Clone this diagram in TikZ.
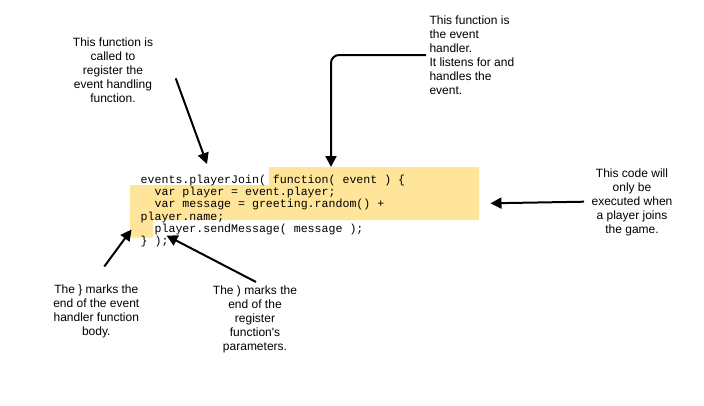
\documentclass[tikz,border=0pt]{standalone}
\usepackage{fontspec}
\setmainfont{Liberation Sans}
\setmonofont{Liberation Mono}
\newfontfamily\plainsans{Liberation Sans}
\usetikzlibrary{arrows.meta}
\definecolor{codebg}{RGB}{255,229,153}

\begin{document}
\begin{tikzpicture}[x=1pt,y=-1pt,
    note/.style={inner sep=0pt,align=center,font=\fontsize{12}{14}\selectfont},
    codeline/.style={inner sep=0pt,anchor=base west,font=\fontsize{11.6}{12.2}\ttfamily},
    pointer/.style={line width=2pt,-{Triangle[length=11pt,width=11pt]}}]
                    \useasboundingbox (0,0) rectangle (704,405);
                    % highlighted handler
                    \fill[codebg] (269,167) -- (479,167) -- (479,220) -- (153,220) -- (153,237.5)
                        -- (130,237.5) -- (130,185) -- (269,185) -- cycle;
                    \node[codeline](l1) at (140.5,183.5){events.playerJoin( function( event ) \{};
                    \node[codeline](l2) at (140.5,195.7){\ \ var player = event.player;};
                    \node[codeline](l3) at (140.5,207.9){\ \ var message = greeting.random() +};
                    \node[codeline](l4) at (140.5,220.1){player.name;};
                    \node[codeline](l5) at (140.5,232.3){\ \ player.sendMessage( message );};
                    \node[codeline](l6) at (140.5,244.5){\} );};
                    % notes
                    \node[note](register) at (113,70.5){This function is\\called to\\register the\\event handling\\function.};
                    \node[note,align=left,anchor=west](handler) at (429.3,55.5){This function is\\the event\\handler.\\It listens for and\\handles the\\event.};
                    \node[note](joins) at (632,202.5){This code will\\only be\\executed when\\a player joins\\the game.};
                    \node[note](brace) at (96.3,311){The \} marks the\\end of the event\\handler function\\body.};
                    \node[note](paren) at (255,319.7){The ) marks the\\end of the\\register\\function{\plainsans'}s\\parameters.};
                    % arrows
                    \coordinate (regtail) at (175.7,78.3);
                    \coordinate (regtip) at (207,164);
                    \coordinate (handtail) at (426,55);
                    \coordinate (handtip) at (331,167);
                    \coordinate (jointail) at (584,201.7);
                    \coordinate (jointip) at (490.5,203.3);
                    \coordinate (bracetail) at (104.3,266.5);
                    \coordinate (bracetip) at (131.5,229.5);
                    \coordinate (parentail) at (256,282);
                    \coordinate (parentip) at (166.5,235.5);
                    \draw[pointer](regtail)--(regtip);
                    \draw[pointer,rounded corners=8pt](handtail)-|(handtip);
                    \draw[pointer](jointail)--(jointip);
                    \draw[pointer](bracetail)--(bracetip);
                    \draw[pointer](parentail)--(parentip);
                \end{tikzpicture}
\end{document}
